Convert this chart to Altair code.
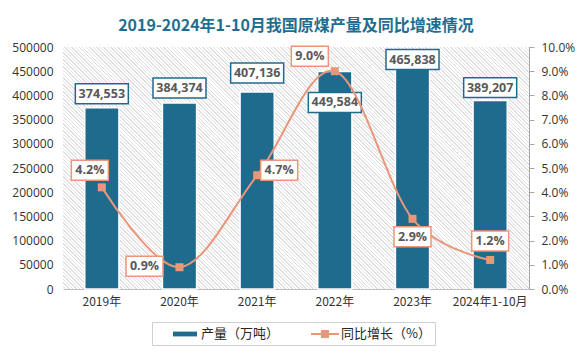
import altair as alt
import pandas as pd

# ---------------- data ----------------
years = ["2019年", "2020年", "2021年", "2022年", "2023年", "2024年1-10月"]
output = [374553, 384374, 407136, 449584, 465838, 389207]
growth = [4.2, 0.9, 4.7, 9.0, 2.9, 1.2]
left_ticks = [0, 50000, 100000, 150000, 200000, 250000, 300000, 350000, 400000, 450000, 500000]
right_ticks = [0, 1, 2, 3, 4, 5, 6, 7, 8, 9, 10]
series_names = ["产量（万吨）", "同比增长（%）"]
title_text = "2019-2024年1-10月我国原煤产量及同比增速情况"

# ---------------- style ----------------
BLUE = "#1f6b8e"
ORANGE = "#e9967a"
TXT = "#595959"
AX = "#333333"
CJK = "Noto Sans CJK SC"
NUM = "Open Sans"
W, H = 466, 242

# label placement (pixel offsets of label box centre from anchor)
VAL_OFF = {"2019年": (0, -14), "2020年": (0, -15), "2021年": (0, -19),
           "2022年": (0, 31), "2023年": (0, -4), "2024年1-10月": (0, -13)}
PCT_OFF = {"2019年": (-12, -17), "2020年": (-35, -1), "2021年": (22, -5),
           "2022年": (-25, -15), "2023年": (0, 18), "2024年1-10月": (0, -19)}

df = pd.DataFrame({"year": years, "output": output, "growth": growth})

# hatch background gradient (fine diagonal stripes)
r = H / W
s = (1 + r) / (1 + r * r)
n = 200
stops = []
for k in range(n):
    a = k / n
    b = (k + 0.6) / n
    c = (k + 1) / n
    stops += [{"offset": a, "color": "#ffffff"}, {"offset": b, "color": "#ffffff"},
              {"offset": b, "color": "#e0e0e0"}, {"offset": c, "color": "#e0e0e0"}]
hatch = {"gradient": "linear", "x1": 0, "y1": 1, "x2": s, "y2": 1 - r * s, "stops": stops}

x_enc = alt.X("year:N", sort=years,
              scale=alt.Scale(paddingInner=0.56, paddingOuter=0.28),
              axis=alt.Axis(title=None, labelAngle=0, labelFont=CJK, labelFontSize=12,
                            labelColor=AX, domainColor="#bfbfbf", ticks=False,
                            labelPadding=7, grid=False))

# legend symbols: drawn to the right of their 16px layout box (unit = 8px)
bar_path = "M1.125,-0.3L4.125,-0.3L4.125,0.3L1.125,0.3Z"
line_path = ("M0.875,-0.12L4.375,-0.12L4.375,0.12L0.875,0.12Z"
             "M2.125,-0.5L3.125,-0.5L3.125,0.5L2.125,0.5Z")
legend = alt.Legend(
    title=None,
    orient="none", legendX=89, legendY=275, direction="horizontal", symbolSize=256,
    symbolOpacity=1, symbolStrokeWidth=0, labelOffset=29,
    labelFont=CJK, labelFontSize=13, labelColor="#262626",
    strokeColor="#cfcfcf", fillColor="white", padding=4, columnPadding=16,
    labelExpr=f"datum.label + (datum.value == '{series_names[1]}' ? '\u2003' : '')",
)

bg = alt.Chart(pd.DataFrame({"k": [0]})).mark_rect(fill=hatch).encode(
    x=alt.value(0), x2=alt.value("width"), y=alt.value(0), y2=alt.value("height"))

y_left = alt.Y("output:Q", scale=alt.Scale(domain=[0, 500000], nice=False),
               axis=alt.Axis(title=None, orient="left", values=left_ticks, format="d",
                             domain=False, ticks=False, grid=False, labelPadding=10,
                             labelFont=NUM, labelFontSize=12, labelColor=AX))
y_right = alt.Y("growth:Q", scale=alt.Scale(domain=[0, 10], nice=False),
                axis=alt.Axis(title=None, orient="right", values=right_ticks,
                              labelExpr="format(datum.value, '.1f') + '%'",
                              domain=True, domainColor="#a6a6a6", ticks=True,
                              tickColor="#a6a6a6", tickSize=5, grid=False,
                              labelPadding=7, labelFont=NUM, labelFontSize=12,
                              labelColor=AX))

base = alt.Chart(df)

bars = base.mark_bar(stroke="white", strokeWidth=1.5, color=BLUE).encode(x=x_enc, y=y_left)

val_layers = []
for yr in years:
    dx, dy = VAL_OFF[yr]
    sub = base.transform_filter(alt.datum.year == yr)
    val_layers.append(sub.mark_point(
        shape="M-1,-0.377L1,-0.377L1,0.377L-1,0.377Z", size=2809, filled=True,
        fill="white", stroke=BLUE, strokeWidth=1.5, opacity=1,
        xOffset=dx, yOffset=dy).encode(x=x_enc, y=y_left))
    val_layers.append(sub.mark_text(
        font=NUM, fontSize=12.5, fontWeight="bold", color=TXT, baseline="middle",
        dx=dx, dy=dy).encode(x=x_enc, y=y_left, text=alt.Text("output:Q", format=",")))

left = alt.layer(bg, bars, *val_layers)

line = base.mark_line(interpolate="cardinal", strokeWidth=2, color=ORANGE).encode(
    x=x_enc, y=y_right)
pts = base.mark_point(shape="square", size=64, filled=True, color=ORANGE, opacity=1).encode(
    x=x_enc, y=y_right)

pct_layers = []
for yr in years:
    dx, dy = PCT_OFF[yr]
    sub = base.transform_filter(alt.datum.year == yr)
    pct_layers.append(sub.mark_point(
        shape="M-1,-0.54L1,-0.54L1,0.54L-1,0.54Z", size=1369, filled=True,
        fill="white", stroke=ORANGE, strokeWidth=1.5, opacity=1,
        xOffset=dx, yOffset=dy).encode(x=x_enc, y=y_right))
    pct_layers.append(sub.mark_text(
        font=NUM, fontSize=12.5, fontWeight="bold", color=TXT, baseline="middle",
        dx=dx, dy=dy).transform_calculate(
        lab="format(datum.growth, '.1f') + '%'").encode(
        x=x_enc, y=y_right, text="lab:N"))

# legend carrier (invisible marks; legend symbols drawn from the scales)
leg = alt.Chart(pd.DataFrame({"series": series_names})).mark_point(
    filled=True, opacity=0).encode(
    color=alt.Color("series:N", sort=series_names,
                    scale=alt.Scale(domain=series_names, range=[BLUE, ORANGE]),
                    legend=legend),
    shape=alt.Shape("series:N", sort=series_names,
                    scale=alt.Scale(domain=series_names, range=[bar_path, line_path]),
                    legend=legend))

right = alt.layer(line, pts, *pct_layers, leg)

chart = alt.layer(left, right).resolve_scale(y="independent").properties(
    width=W, height=H,
    title=alt.Title(title_text, font=CJK, fontSize=16, fontWeight="bold",
                    color="#1f6e91", anchor="middle", offset=7),
    autosize=alt.AutoSizeParams(type="none"),
    padding={"left": 55, "top": 39, "right": 47, "bottom": 64},
    background="white",
).configure_view(stroke=None)

chart.save("out.html", embed_options={"renderer": "svg", "actions": False})
